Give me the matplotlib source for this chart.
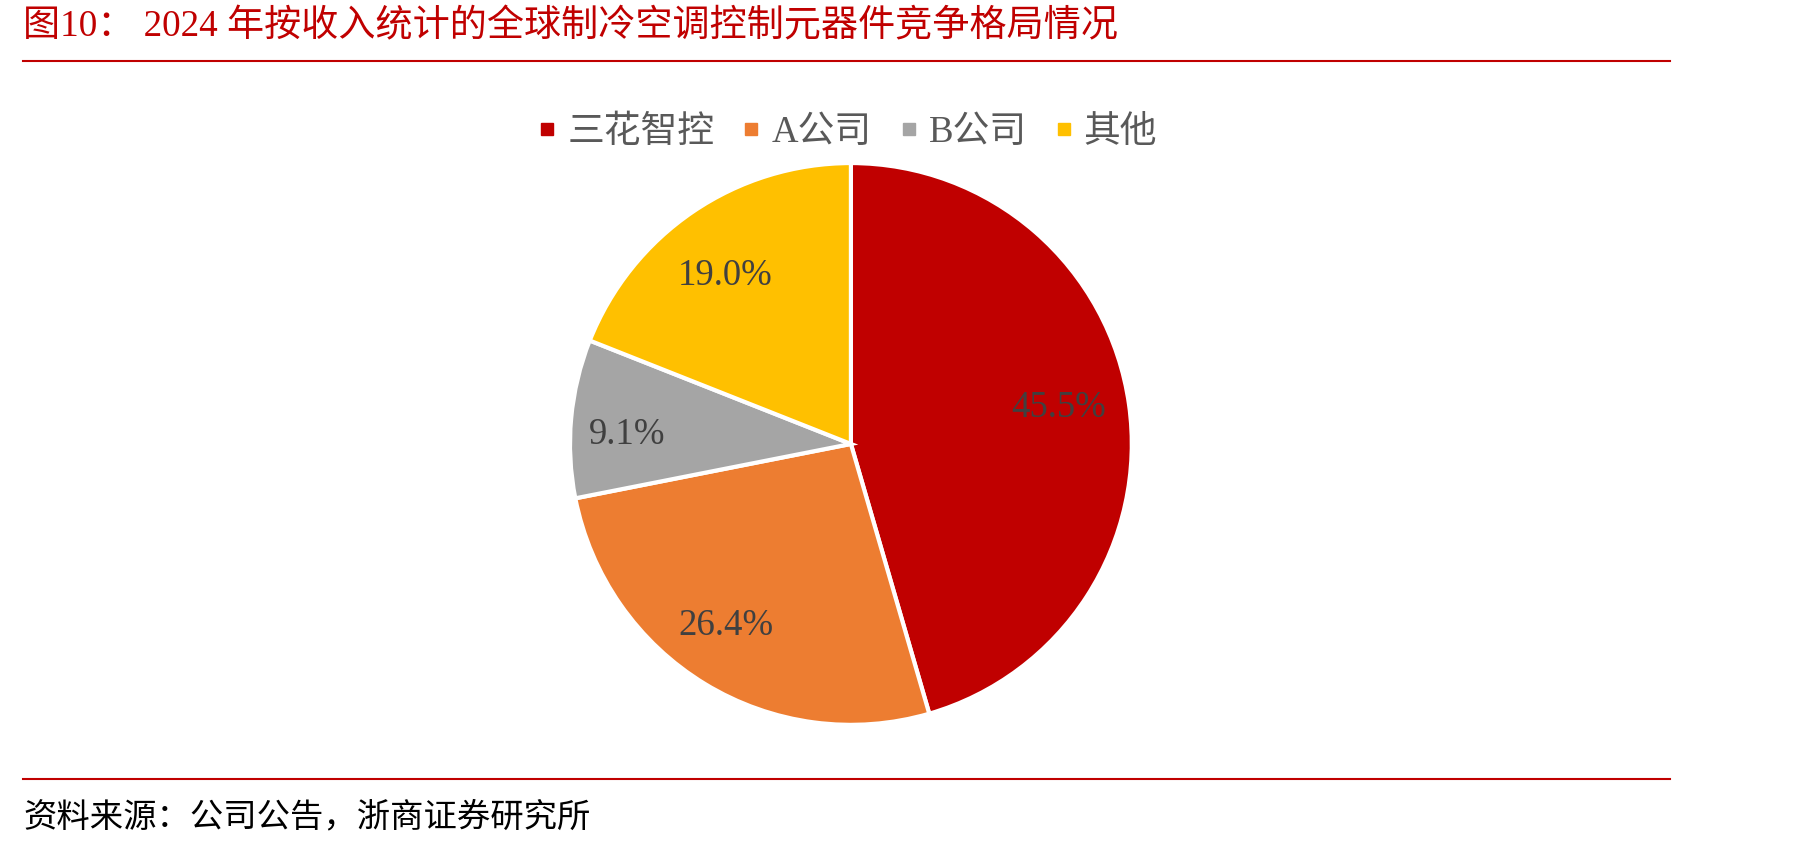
import matplotlib
matplotlib.use("Agg")
import matplotlib.pyplot as plt
from matplotlib.lines import Line2D

plt.rcParams["font.family"] = ["Liberation Serif", "Noto Sans CJK SC"]

# data
labels = ["三花智控", "A公司", "B公司", "其他"]
shares = [45.5, 26.4, 9.1, 19.0]
colors = ["#C00000", "#ED7D31", "#A5A5A5", "#FFC000"]

title = "图10： 2024 年按收入统计的全球制冷空调控制元器件竞争格局情况"
source = "资料来源：公司公告，浙商证券研究所"
accent = "#C00000"

# small per-label nudges (axes data units) so labels sit like the original
label_nudge = [(-0.024, 0.02), (-0.045, 0.012), (-0.029, -0.037), (-0.016, -0.037)]

fig = plt.figure(figsize=(17.98, 8.47), dpi=100)

# pie axes, square, centred on the chart area
ax = fig.add_axes([0.3014, 0.111, 0.3437, 0.7297])
wedges, texts, autotexts = ax.pie(
    shares,
    colors=colors,
    startangle=90,
    counterclock=False,
    autopct=lambda p: f"{p:.1f}%",
    pctdistance=0.77,
    wedgeprops=dict(edgecolor="white", linewidth=3),
    textprops=dict(color="#404040", fontsize=26.5),
)
for t, (dx, dy) in zip(autotexts, label_nudge):
    x, y = t.get_position()
    t.set_position((x + dx, y + dy))
ax.set_xlim(-1.1, 1.1)
ax.set_ylim(-1.1, 1.1)
ax.set_aspect("equal")

handles = [
    Line2D([], [], linestyle="none", marker="s", markersize=8,
           markerfacecolor=c, markeredgecolor=c)
    for c in colors
]
fig.legend(
    handles, labels,
    loc="center", bbox_to_anchor=(0.4715, 0.8435),
    ncol=4, frameon=False, fontsize=26.5,
    handlelength=0.5, handletextpad=0.3, columnspacing=0.75,
    labelcolor="#595959",
)

# header / footer
fig.text(0.0128, 0.9685, title, color=accent, fontsize=26.7, va="center", ha="left")
fig.add_artist(Line2D([0.0128, 0.929], [0.928, 0.928], color=accent, linewidth=1.5))
fig.add_artist(Line2D([0.0128, 0.929], [0.0803, 0.0803], color=accent, linewidth=1.5))
fig.text(0.0128, 0.0346, source, color="black", fontsize=24, va="center", ha="left")

fig.savefig("out.png", dpi=100)
